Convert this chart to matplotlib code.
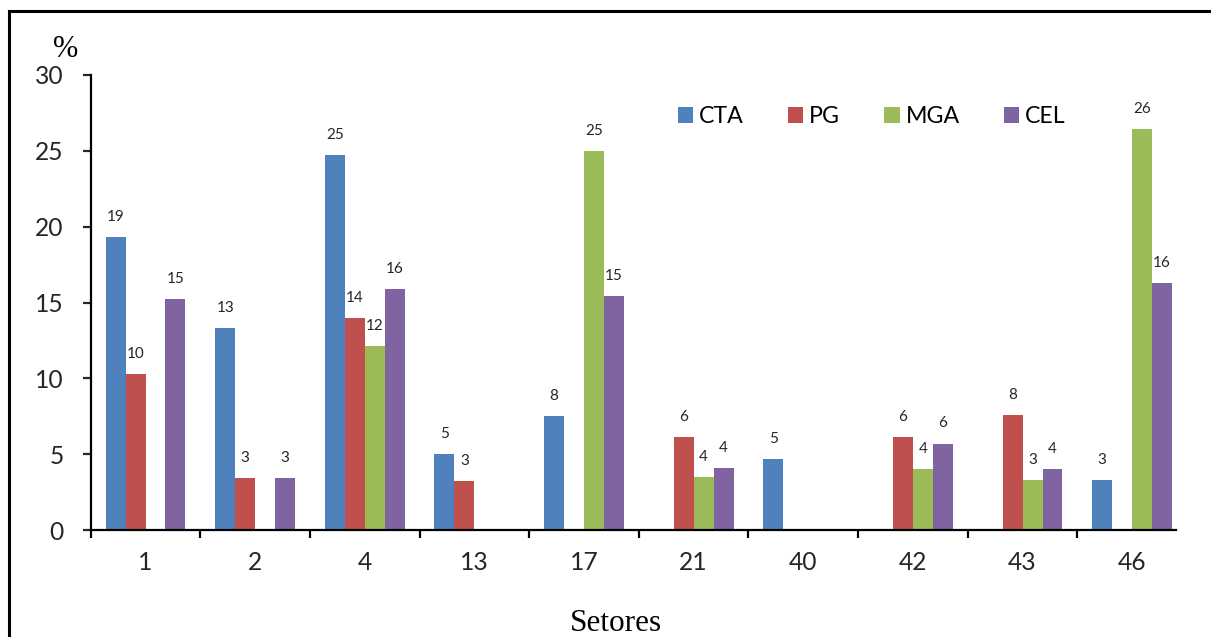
import numpy as np
import matplotlib
matplotlib.use("Agg")
import matplotlib.pyplot as plt
from matplotlib.lines import Line2D

# dados por setor (%)
setores = ["1", "2", "4", "13", "17", "21", "40", "42", "43", "46"]
cta = [19.3, 13.3, 24.7, 5.0, 7.5, 0, 4.7, 0, 0, 3.3]
pg = [10.3, 3.45, 14.0, 3.2, 0, 6.1, 0, 6.15, 7.6, 0]
mga = [0, 0, 12.1, 0, 25.0, 3.52, 0, 4.05, 3.3, 26.45]
cel = [15.2, 3.45, 15.9, 0, 15.45, 4.1, 0, 5.7, 4.05, 16.3]

series = [("CTA", cta, "#4F81BD"), ("PG", pg, "#C0504D"),
          ("MGA", mga, "#9BBB59"), ("CEL", cel, "#8064A2")]

plt.rcParams["font.family"] = ["Lato", "DejaVu Sans"]

W, H = 1211, 637
fig = plt.figure(figsize=(W / 100, H / 100), dpi=100)
ax = fig.add_axes([90.7 / W, 1 - 530 / H, (1176 - 90.7) / W, 455 / H])

x = np.arange(len(setores))
w = 0.1823
for i, (nome, vals, cor) in enumerate(series):
    pos = x + (i - 1.5) * w
    barras = ax.bar(pos, vals, width=w, color=cor, label=nome)
    for b, v in zip(barras, vals):
        if v > 0:
            ax.annotate(f"{v:.0f}", (b.get_x() + b.get_width() / 2, v),
                        xytext=(0, 9.4), textcoords="offset points",
                        ha="center", va="bottom", fontsize=11, color="#262626")

ax.set_xlim(-0.5, 9.4)
ax.set_ylim(0, 30)
ax.set_yticks(range(0, 31, 5))
ax.set_xticks(x)
ax.set_xticklabels(setores)
ax.set_xticks(np.arange(-0.5, 9, 1), minor=True)

for s in ["top", "right"]:
    ax.spines[s].set_visible(False)
for s in ["left", "bottom"]:
    ax.spines[s].set_linewidth(1.6)

ax.tick_params(axis="y", direction="out", length=5.8, width=1.6,
               pad=13.7, labelsize=17.7, colors="#262626")
ax.tick_params(axis="x", which="major", length=0, pad=15, labelsize=17.7,
               colors="#262626")
ax.tick_params(axis="x", which="minor", direction="out", length=6, width=1.6)

fig.legend(loc="center left", bbox_to_anchor=(677.7 / W, 1 - 116.7 / H),
           ncol=4, frameon=False, fontsize=16.7, handlelength=0.67,
           handleheight=0.67, handletextpad=0.25, columnspacing=1.9,
           borderpad=0, borderaxespad=0)

fig.text(66 / W, 1 - 57 / H, "%", family="Liberation Serif", fontsize=22,
         ha="center", va="baseline")
fig.text(616 / W, 1 - 631 / H, "Setores", family="Liberation Serif",
         fontsize=22.5, ha="center", va="baseline")

# moldura
fig.add_artist(Line2D([9 / W, 9 / W], [0, 1 - 11 / H], transform=fig.transFigure,
                      color="black", lw=2.2))
fig.add_artist(Line2D([9 / W, 1], [1 - 11 / H, 1 - 11 / H], transform=fig.transFigure,
                      color="black", lw=2.2))

fig.savefig("out.png", dpi=100)
